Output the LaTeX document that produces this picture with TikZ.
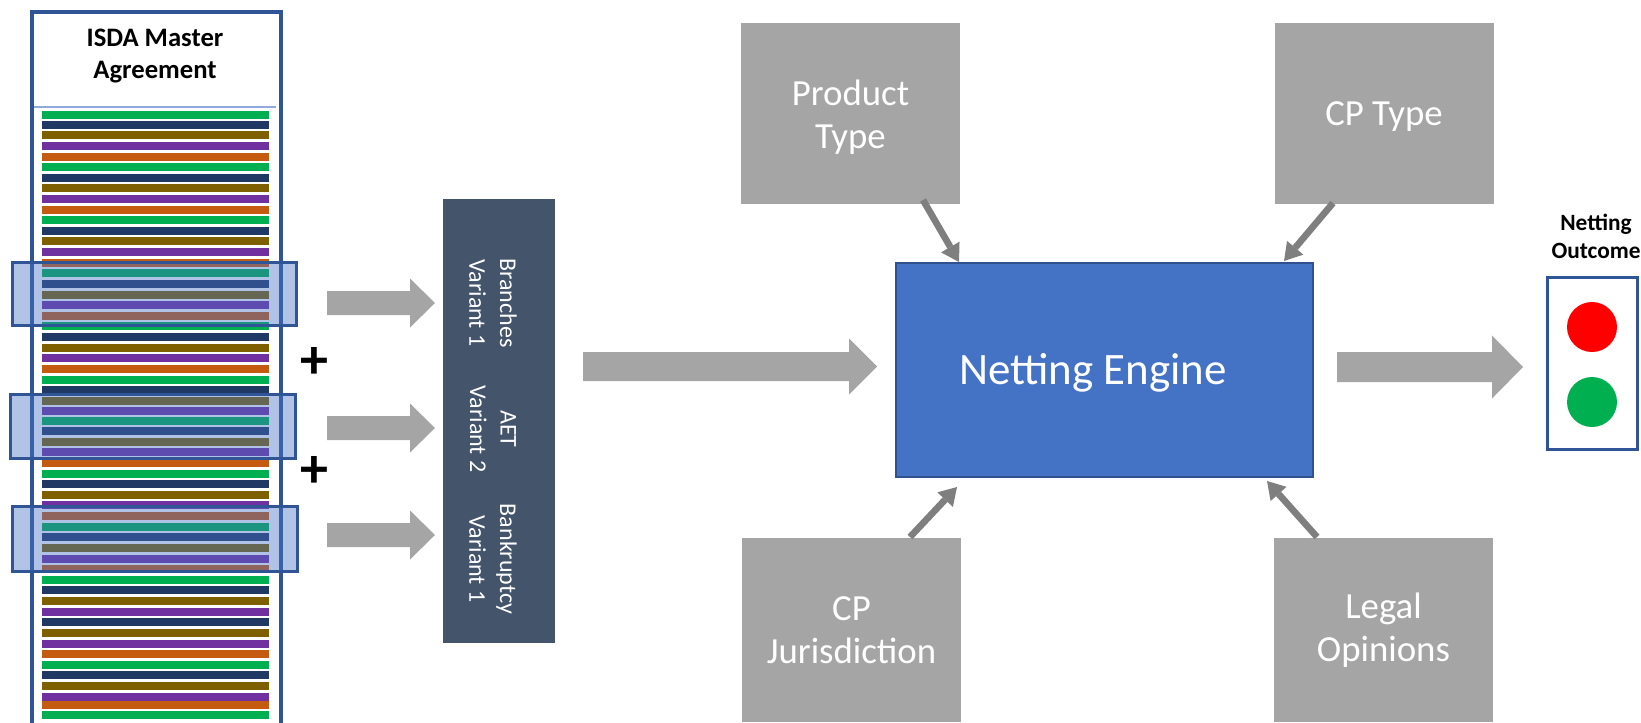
\documentclass[tikz,border=0pt]{standalone}
\usepackage{fontspec}
\setmainfont{Carlito}
\usetikzlibrary{arrows.meta,calc}
\definecolor{boxgray}{HTML}{A5A5A5}
\definecolor{diaggray}{HTML}{7F7F7F}
\definecolor{slate}{HTML}{44546A}
\definecolor{engblue}{HTML}{4472C4}
\definecolor{engborder}{HTML}{2F528F}
\definecolor{navyb}{HTML}{2F5597}
\definecolor{sepblue}{HTML}{8FAADC}
\definecolor{sG}{HTML}{00B050}
\definecolor{sN}{HTML}{203864}
\definecolor{sO}{HTML}{7F6000}
\definecolor{sP}{HTML}{7030A0}
\definecolor{sR}{HTML}{C55A11}
\definecolor{redc}{HTML}{FF0000}
\newcommand\blockarrow[5]{%
  \fill[boxgray] ($(#1)+(0,-#3)$) -- ($(#2)+(-#5,-#3)$) -- ($(#2)+(-#5,-#4)$) -- (#2)
    -- ($(#2)+(-#5,#4)$) -- ($(#2)+(-#5,#3)$) -- ($(#1)+(0,#3)$) -- cycle;}
\begin{document}
\begin{tikzpicture}[x=0.75pt,y=-0.75pt,
  graybox/.style={fill=boxgray,text=white,font=\fontsize{27.6}{32.5}\selectfont,align=center,
    minimum width=164.25pt,inner sep=0pt},
  selbox/.style={draw=navyb,line width=2.25pt,fill=engblue,fill opacity=0.42,inner sep=0pt},
  vartext/.style={rotate=-90,text=white,font=\fontsize{18}{23}\selectfont,align=center,inner sep=0pt},
  diag/.style={draw=diaggray,line width=5pt,-{Triangle[width=16pt,length=13pt,line width=0pt]}}]
\useasboundingbox (0,0) rectangle (1641,722);
\clip (0,0) rectangle (1641,722);
% ISDA document
\node[draw=navyb,line width=2pt,fill=white,minimum width=186pt,minimum height=561.75pt,
  anchor=north west,inner sep=0pt] (isda) at (31,11) {};
\node[font=\fontsize{20}{24}\selectfont\bfseries,align=center] (title) at (155,56) {ISDA Master\\Agreement};
\draw[sepblue,line width=1.5pt] (34,107) -- (276,107);
\foreach \y/\c in {111/sG,121/sN,131/sO,142/sP,153/sR,163/sG,174/sN,184/sO,195/sP,206/sR,
  216/sG,227/sN,237/sO,248/sP,259/sR,269/sG,280/sN,291/sO,301/sP,312/sR,322/sG,333/sN,344/sO,
  354/sP,365/sR,376/sG,386/sN,397/sO,407/sP,417/sG,427/sN,438/sO,448/sP,459/sR,470/sG,480/sN,
  491/sO,501/sP,512/sR,523/sG,533/sN,544/sO,555/sP,565/sR,576/sG,586/sN,597/sO,608/sP,618/sN,
  629/sO,640/sP,650/sR,661/sG,671/sN,682/sO,693/sP,701/sR,711/sG}
  \fill[\c] (42,\y) rectangle (269,\y+8);
\draw[navyb,line width=2pt] (isda.north west) rectangle (isda.south east);
% selections
\node[selbox,minimum width=213pt,minimum height=47.25pt] (sel1) at (154,293.5) {};
\node[selbox,minimum width=213.75pt,minimum height=48pt] (sel2) at (152.5,426) {};
\node[selbox,minimum width=213.75pt,minimum height=48.75pt] (sel3) at (154.5,538.5) {};
\node[font=\fontsize{42}{42}\selectfont\bfseries,inner sep=0pt] (plus1) at (314,363) {+};
\node[font=\fontsize{42}{42}\selectfont\bfseries,inner sep=0pt] (plus2) at (314,472) {+};
% small arrows
\coordinate (a1s) at (327,303); \coordinate (a1e) at (435,303);
\coordinate (a2s) at (327,428); \coordinate (a2e) at (435,428);
\coordinate (a3s) at (327,535); \coordinate (a3e) at (435,535);
\blockarrow{a1s}{a1e}{12}{24.5}{25}
\blockarrow{a2s}{a2e}{12}{24.5}{25}
\blockarrow{a3s}{a3e}{12}{24.5}{25}
% variants box
\node[fill=slate,minimum width=84pt,minimum height=333pt,inner sep=0pt] (variants) at (499,421) {};
\node[vartext] (v1) at (493,303) {Branches\\Variant 1};
\node[vartext] (v2) at (493,429) {AET\\Variant 2};
\node[vartext] (v3) at (493,559) {Bankruptcy\\Variant 1};
% engine
\node[fill=engblue,draw=engborder,line width=1.5pt,minimum width=312.75pt,minimum height=160.5pt] (engine) at (1104.5,370) {};
\node[text=white,font=\fontsize{33.7}{40}\selectfont,inner sep=0pt] (enginetext) at (1093,373) {Netting Engine};
\coordinate (b1s) at (583,366.5); \coordinate (b1e) at (877,366.5);
\blockarrow{b1s}{b1e}{14.5}{28}{28}
\coordinate (b2s) at (1337,367); \coordinate (b2e) at (1523,367);
\blockarrow{b2s}{b2e}{15}{31.5}{31}
% gray boxes
\node[graybox,minimum height=135.75pt] (product) at (850.5,113.5) {};
\node[text=white,font=\fontsize{27.6}{32.5}\selectfont,align=center,inner sep=0pt] (producttext) at (850.5,117) {Product\\Type};
\node[graybox,minimum height=135.75pt] (cptype) at (1384,113.5) {};
\node[text=white,font=\fontsize{27.6}{32.5}\selectfont,inner sep=0pt] (cptypetext) at (1384,117) {CP Type};
\node[graybox,minimum height=138pt] (jur) at (851.5,630) {CP\\Jurisdiction};
\node[graybox,minimum height=138pt] (legal) at (1383.5,630) {Legal\\Opinions};
\coordinate (d1s) at (923,200); \coordinate (d1e) at (959,262);
\coordinate (d2s) at (1333,203); \coordinate (d2e) at (1284,261);
\coordinate (d3s) at (910,537); \coordinate (d3e) at (957,487);
\coordinate (d4s) at (1317,537); \coordinate (d4e) at (1267,481);
\draw[diag] (d1s) -- (d1e);
\draw[diag] (d2s) -- (d2e);
\draw[diag] (d3s) -- (d3e);
\draw[diag] (d4s) -- (d4e);
% outcome
\node[font=\fontsize{17.5}{21}\selectfont\bfseries,align=center,inner sep=0pt] (outtitle) at (1596,236) {Netting\\Outcome};
\node[draw=navyb,line width=2.25pt,minimum width=67.5pt,minimum height=129pt,inner sep=0pt] (outcome) at (1592,363) {};
\node[circle,fill=redc,minimum size=37.5pt,inner sep=0pt] (red) at (1592,327) {};
\node[circle,fill=sG,minimum size=37.5pt,inner sep=0pt] (green) at (1592,402) {};
\end{tikzpicture}
\end{document}
